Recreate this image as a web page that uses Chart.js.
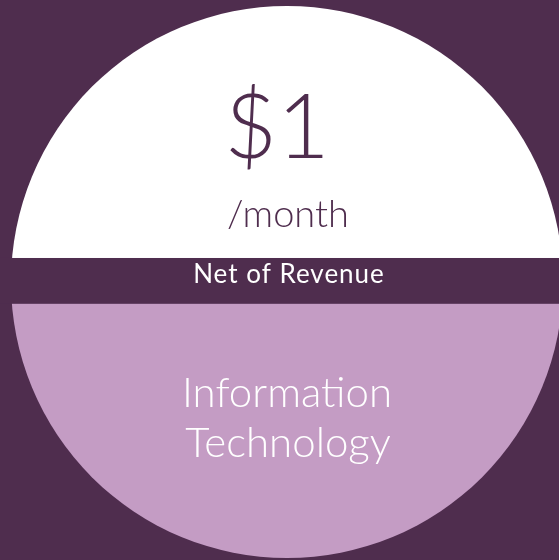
<!DOCTYPE html>
<html>
<head>
<meta charset="utf-8">
<script src="https://cdn.jsdelivr.net/npm/chart.js@4/dist/chart.umd.min.js"></script>
<style>
  html, body { margin: 0; padding: 0; background: #4F2D4E; overflow: hidden; }
  #wrap { position: absolute; left: 0; top: 0; width: 600px; height: 560px; }
</style>
</head>
<body>
<div id="wrap"><canvas id="c"></canvas></div>
<script>
// ---- data ----
const categories = ['Price', 'Information Technology'];
const values = [50, 50];
const priceText = '$1';
const periodText = '/month';
const bandText = 'Net of Revenue';
const sectorLines = ['Information', 'Technology'];

const BG = '#4F2D4E';
const LIGHT = '#C49CC4';
const FONT = 'Lato, "Open Sans", sans-serif';

const overlay = {
  id: 'overlay',
  afterDatasetsDraw(chart) {
    const arc = chart.getDatasetMeta(0).data[0];
    if (!arc) return;
    const cx = arc.x, cy = arc.y, R = arc.outerRadius;
    const ctx = chart.ctx;
    ctx.save();
    // band across the middle
    ctx.fillStyle = BG;
    ctx.fillRect(0, cy - R * 0.087, chart.width, R * 0.166);
    ctx.textAlign = 'center';
    ctx.textBaseline = 'alphabetic';
    // price
    ctx.fillStyle = BG;
    ctx.font = '300 91px ' + FONT;
    ctx.fillText(priceText, cx - 10, cy - 124);
    ctx.font = '300 38px ' + FONT;
    ctx.fillText(periodText, cx + 1, cy - 55);
    // band label
    ctx.fillStyle = '#FFFFFF';
    ctx.font = '400 26px ' + FONT;
    if ('letterSpacing' in ctx) ctx.letterSpacing = '1px';
    ctx.fillText(bandText, cx + 2, cy + 1);
    if ('letterSpacing' in ctx) ctx.letterSpacing = '0px';
    // sector
    ctx.font = '300 42px ' + FONT;
    ctx.fillText(sectorLines[0], cx, cy + 125);
    ctx.fillText(sectorLines[1], cx + 1, cy + 175);
    ctx.restore();
  }
};

new Chart(document.getElementById('c'), {
  type: 'pie',
  data: {
    labels: categories,
    datasets: [{
      data: values,
      backgroundColor: ['#FFFFFF', LIGHT],
      borderWidth: 0,
      hoverOffset: 0
    }]
  },
  options: {
    responsive: true,
    maintainAspectRatio: false,
    animation: false,
    rotation: -90,
    layout: { padding: { left: 11, right: 37, top: 6, bottom: 2 } },
    plugins: {
      legend: { display: false },
      tooltip: { enabled: false }
    },
    events: []
  },
  plugins: [overlay]
});
</script>
</body>
</html>
